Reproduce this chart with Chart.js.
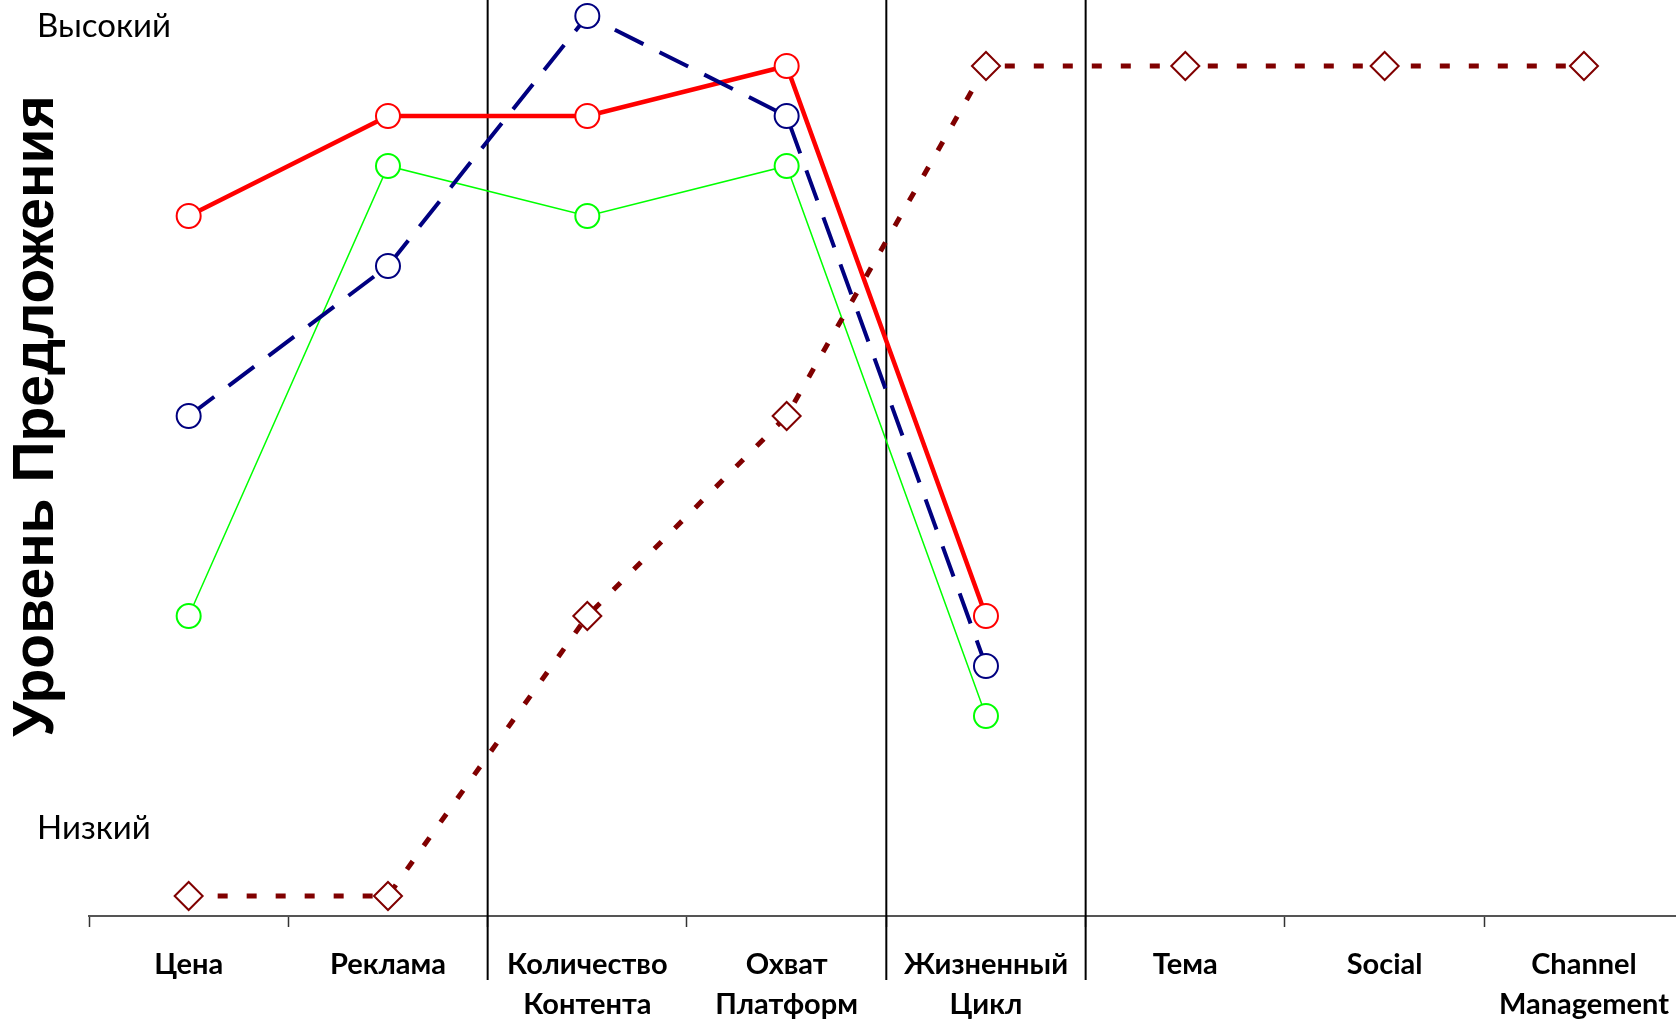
<!DOCTYPE html>
<html>
<head>
<meta charset="utf-8">
<script src="https://cdn.jsdelivr.net/npm/chart.js@4"></script>
<style>
  html, body { margin: 0; padding: 0; background: #fff; overflow: hidden; }
  #wrap { width: 1686px; height: 1021px; position: relative; }
</style>
</head>
<body>
<div id="wrap"><canvas id="offer-chart"></canvas></div>
<script>
// categories on the x axis
var categories = ['Цена', 'Реклама', ['Количество', 'Контента'], ['Охват', 'Платформ'],
                  ['Жизненный', 'Цикл'], 'Тема', 'Social', ['Channel', 'Management']];

// offer levels (0 = axis, 18 = top marker)
var redLevels    = [14, 16, 16, 17, 6, null, null, null];
var blueLevels   = [10, 13, 18, 16, 5, null, null, null];
var greenLevels  = [6, 15, 14, 15, 4, null, null, null];
var maroonLevels = [0.4, 0.4, 6, 10, 17, 17, 17, 17];

// category boundaries that get a full-height separator
var separatorsAfter = [1, 3, 4];

var yTitle = 'Уровень Предложения';
var highLabel = 'Высокий';
var lowLabel = 'Низкий';

const separators = {
  id: 'separators',
  beforeDatasetsDraw(chart) {
    const ctx = chart.ctx;
    const x = chart.scales.x;
    ctx.save();
    ctx.strokeStyle = '#000';
    ctx.lineWidth = 2;
    separatorsAfter.forEach(function (i) {
      var px = (x.getPixelForValue(i) + x.getPixelForValue(i + 1)) / 2;
      ctx.beginPath();
      ctx.moveTo(px, 0);
      ctx.lineTo(px, 980);
      ctx.stroke();
    });
    ctx.restore();
  }
};

const sideTexts = {
  id: 'sideTexts',
  afterDraw(chart) {
    const ctx = chart.ctx;
    const area = chart.chartArea;
    ctx.save();
    ctx.fillStyle = '#000';
    ctx.textAlign = 'left';
    ctx.textBaseline = 'alphabetic';
    ctx.font = '33px Lato';
    ctx.fillText(highLabel, 37, 37);
    ctx.fillText(lowLabel, 37, 839);

    ctx.translate(53, (area.top + area.bottom) / 2 - 42);
    ctx.rotate(-Math.PI / 2);
    ctx.textAlign = 'center';
    ctx.font = 'bold 57px "Liberation Sans"';
    ctx.fillText(yTitle, 0, 0);
    ctx.restore();
  }
};

function circleSet(label, data, color, width, dash, order) {
  return {
    label: label,
    data: data,
    borderColor: color,
    borderWidth: width,
    borderDash: dash,
    pointStyle: 'circle',
    pointRadius: 12,
    pointBorderWidth: 2,
    pointBorderColor: color,
    pointBackgroundColor: '#fff',
    tension: 0,
    clip: false,
    order: order
  };
}

const ctx = document.getElementById('offer-chart');

new Chart(ctx, {
  type: 'line',
  data: {
    labels: categories,
    datasets: [
      circleSet('red', redLevels, '#ff0000', 4.5, [], 2),
      circleSet('blue', blueLevels, '#000080', 4, [32, 18], 1),
      circleSet('green', greenLevels, '#00ff00', 1.5, [], 3),
      {
        label: 'maroon',
        data: maroonLevels,
        borderColor: '#800000',
        borderWidth: 5,
        borderDash: [10, 19],
        pointStyle: 'rectRot',
        pointRadius: 14,
        pointBorderWidth: 2,
        pointBorderColor: '#800000',
        pointBackgroundColor: '#fff',
        tension: 0,
        clip: false,
        order: 0
      }
    ]
  },
  options: {
    responsive: true,
    maintainAspectRatio: false,
    animation: false,
    layout: { autoPadding: false, padding: { left: 89, right: 0, top: 0, bottom: 0 } },
    plugins: {
      legend: { display: false },
      tooltip: { enabled: false }
    },
    scales: {
      x: {
        offset: true,
        grid: {
          offset: true,
          drawOnChartArea: false,
          drawTicks: true,
          tickLength: 11,
          tickWidth: 1.5,
          tickColor: '#333'
        },
        border: { display: true, color: '#555', width: 2 },
        ticks: {
          color: '#000',
          padding: 17,
          maxRotation: 0,
          autoSkip: false,
          font: { family: 'Lato', weight: 'bold', size: 29, lineHeight: 1.4 }
        },
        afterFit: function (scale) { scale.height = 105; }
      },
      y: {
        display: false,
        min: 0,
        max: 18.32
      }
    }
  },
  plugins: [separators, sideTexts]
});
</script>
</body>
</html>
